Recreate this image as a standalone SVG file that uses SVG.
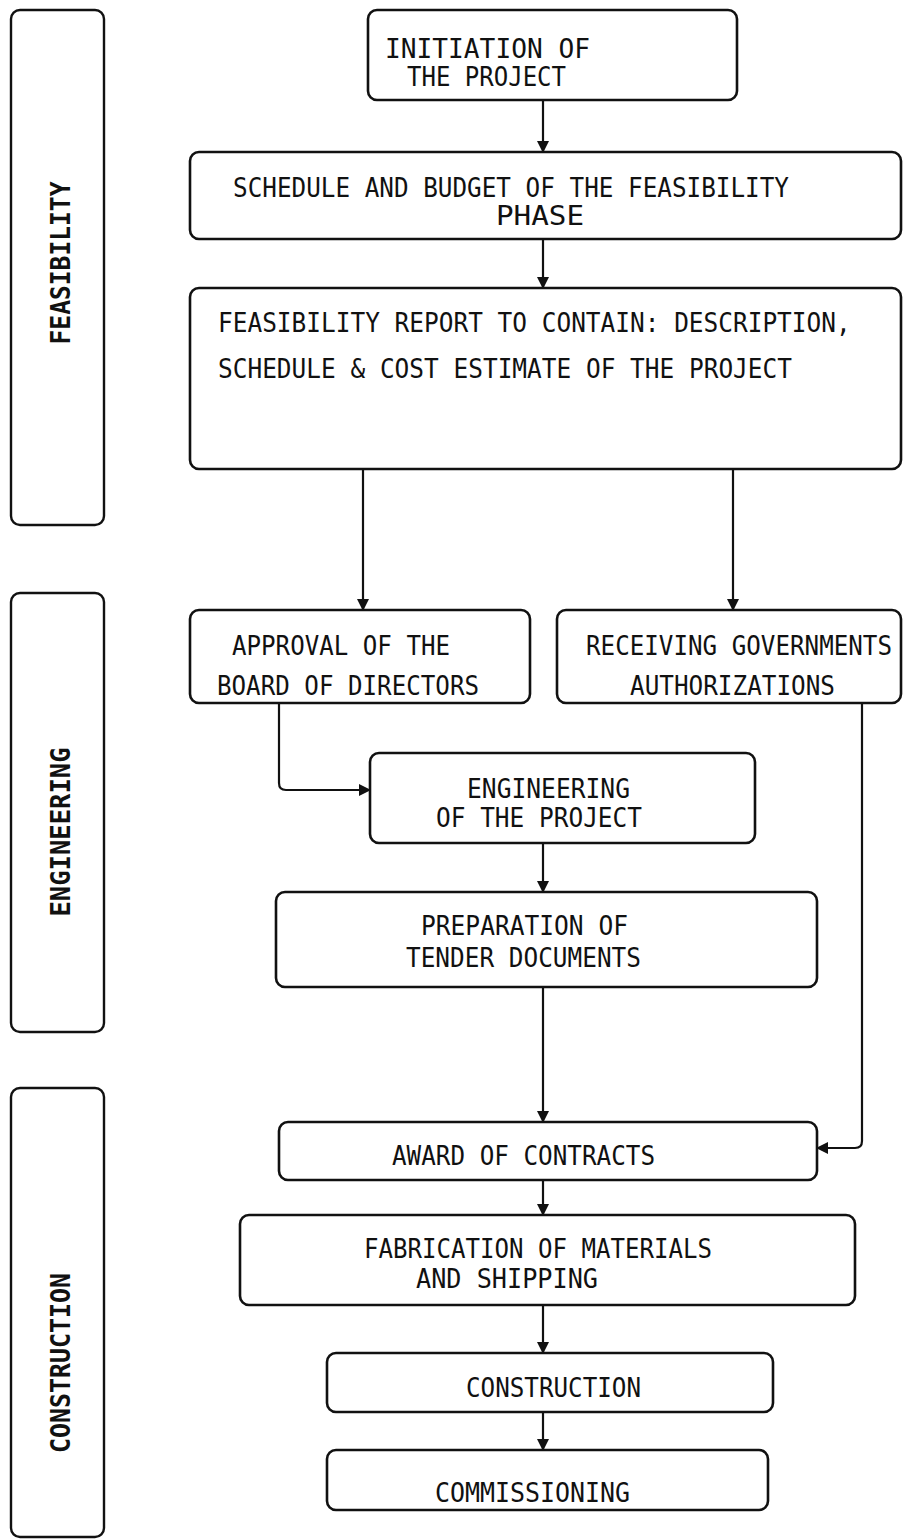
<svg xmlns="http://www.w3.org/2000/svg" width="903" height="1539" viewBox="0 0 903 1539">
<defs>
<marker id="ah" markerWidth="12" markerHeight="14" refX="11" refY="7" orient="auto" markerUnits="userSpaceOnUse">
<path d="M0,1 L12,7 L0,13 Z" fill="#111"/>
</marker>
<style>
.box{fill:#fff;stroke:#111;stroke-width:2.6}
.side{fill:#fff;stroke:#111;stroke-width:2.4}
.t{font-family:"DejaVu Sans Mono","Liberation Mono",monospace;font-size:27px;fill:#111}
.s{font-family:"DejaVu Sans Mono","Liberation Mono",monospace;font-weight:bold;font-size:27px;fill:#111}
.c{fill:none;stroke:#111;stroke-width:2.2}
</style>
</defs>
<rect width="903" height="1539" fill="#fff"/>

<g id="phase-feasibility">
<rect class="side" x="11" y="10" width="93" height="515" rx="9"/>
<text class="s" transform="translate(70,263) rotate(-90)" text-anchor="middle" textLength="163" lengthAdjust="spacingAndGlyphs">FEASIBILITY</text>
</g>
<g id="phase-engineering">
<rect class="side" x="11" y="593" width="93" height="439" rx="9"/>
<text class="s" transform="translate(70,832) rotate(-90)" text-anchor="middle" textLength="169" lengthAdjust="spacingAndGlyphs">ENGINEERING</text>
</g>
<g id="phase-construction">
<rect class="side" x="11" y="1088" width="93" height="449" rx="9"/>
<text class="s" transform="translate(70,1363) rotate(-90)" text-anchor="middle" textLength="180" lengthAdjust="spacingAndGlyphs">CONSTRUCTION</text>
</g>

<g id="connectors">
<line class="c" x1="543" y1="100" x2="543" y2="152" marker-end="url(#ah)"/>
<line class="c" x1="543" y1="239" x2="543" y2="288" marker-end="url(#ah)"/>
<line class="c" x1="363" y1="469" x2="363" y2="610" marker-end="url(#ah)"/>
<line class="c" x1="733" y1="469" x2="733" y2="610" marker-end="url(#ah)"/>
<path class="c" d="M279,703 V783 Q279,790 286,790 H370" marker-end="url(#ah)"/>
<line class="c" x1="543" y1="843" x2="543" y2="892" marker-end="url(#ah)"/>
<line class="c" x1="543" y1="987" x2="543" y2="1122" marker-end="url(#ah)"/>
<path class="c" d="M862,703 V1141 Q862,1148 855,1148 H817" marker-end="url(#ah)"/>
<line class="c" x1="543" y1="1180" x2="543" y2="1215" marker-end="url(#ah)"/>
<line class="c" x1="543" y1="1305" x2="543" y2="1353" marker-end="url(#ah)"/>
<line class="c" x1="543" y1="1412" x2="543" y2="1450" marker-end="url(#ah)"/>
</g>

<g id="initiation">
<rect class="box" x="368" y="10" width="369" height="90" rx="9"/>
<text class="t" x="385" y="58" textLength="205" lengthAdjust="spacingAndGlyphs">INITIATION OF</text>
<text class="t" x="407" y="86" textLength="159" lengthAdjust="spacingAndGlyphs">THE PROJECT</text>
</g>
<g id="schedule-budget">
<rect class="box" x="190" y="152" width="711" height="87" rx="9"/>
<text class="t" x="233" y="197" textLength="556" lengthAdjust="spacingAndGlyphs">SCHEDULE AND BUDGET OF THE FEASIBILITY</text>
<text class="t" x="496" y="225" textLength="88" lengthAdjust="spacingAndGlyphs">PHASE</text>
</g>
<g id="feasibility-report">
<rect class="box" x="190" y="288" width="711" height="181" rx="9"/>
<text class="t" transform="translate(218,332) scale(0.9,1)" textLength="703" lengthAdjust="spacingAndGlyphs">FEASIBILITY REPORT TO CONTAIN: DESCRIPTION,</text>
<text class="t" x="218" y="378" textLength="574" lengthAdjust="spacingAndGlyphs">SCHEDULE &amp; COST ESTIMATE OF THE PROJECT</text>
</g>
<g id="approval">
<rect class="box" x="190" y="610" width="340" height="93" rx="9"/>
<text class="t" x="232" y="655" textLength="218" lengthAdjust="spacingAndGlyphs">APPROVAL OF THE</text>
<text class="t" x="217" y="695" textLength="262" lengthAdjust="spacingAndGlyphs">BOARD OF DIRECTORS</text>
</g>
<g id="government-authorizations">
<rect class="box" x="557" y="610" width="344" height="93" rx="9"/>
<text class="t" transform="translate(586,655) scale(0.9,1)" textLength="340" lengthAdjust="spacingAndGlyphs">RECEIVING GOVERNMENTS</text>
<text class="t" x="630" y="695" textLength="205" lengthAdjust="spacingAndGlyphs">AUTHORIZATIONS</text>
</g>
<g id="engineering">
<rect class="box" x="370" y="753" width="385" height="90" rx="9"/>
<text class="t" x="467" y="798" textLength="163" lengthAdjust="spacingAndGlyphs">ENGINEERING</text>
<text class="t" x="436" y="827" textLength="206" lengthAdjust="spacingAndGlyphs">OF THE PROJECT</text>
</g>
<g id="tender-documents">
<rect class="box" x="276" y="892" width="541" height="95" rx="9"/>
<text class="t" x="421" y="935" textLength="207" lengthAdjust="spacingAndGlyphs">PREPARATION OF</text>
<text class="t" x="406" y="967" textLength="235" lengthAdjust="spacingAndGlyphs">TENDER DOCUMENTS</text>
</g>
<g id="award-contracts">
<rect class="box" x="279" y="1122" width="538" height="58" rx="9"/>
<text class="t" x="392" y="1165" textLength="263" lengthAdjust="spacingAndGlyphs">AWARD OF CONTRACTS</text>
</g>
<g id="fabrication">
<rect class="box" x="240" y="1215" width="615" height="90" rx="9"/>
<text class="t" x="364" y="1258" textLength="348" lengthAdjust="spacingAndGlyphs">FABRICATION OF MATERIALS</text>
<text class="t" x="416" y="1288" textLength="182" lengthAdjust="spacingAndGlyphs">AND SHIPPING</text>
</g>
<g id="construction">
<rect class="box" x="327" y="1353" width="446" height="59" rx="9"/>
<text class="t" x="466" y="1397" textLength="175" lengthAdjust="spacingAndGlyphs">CONSTRUCTION</text>
</g>
<g id="commissioning">
<rect class="box" x="327" y="1450" width="441" height="60" rx="9"/>
<text class="t" x="435" y="1502" textLength="195" lengthAdjust="spacingAndGlyphs">COMMISSIONING</text>
</g>
</svg>
